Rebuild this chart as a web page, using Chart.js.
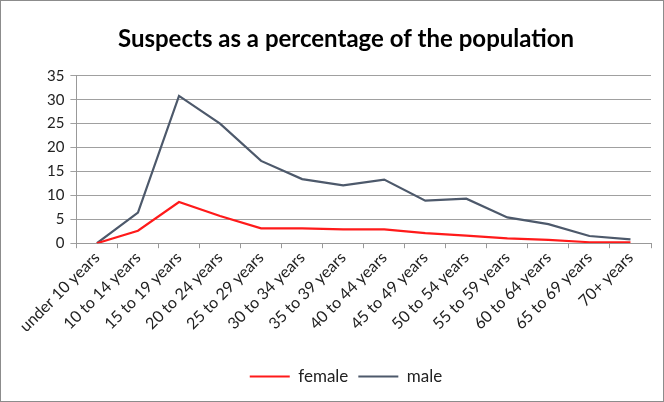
<!DOCTYPE html>
<html>
<head>
<meta charset="utf-8">
<script src="https://cdn.jsdelivr.net/npm/chart.js@4"></script>
<style>
  html, body { margin: 0; padding: 0; background: #fff; }
  .wrap { position: relative; width: 664px; height: 402px; box-sizing: border-box; border: 1px solid #8c8c8c; }
</style>
</head>
<body>
<div class="wrap"><canvas id="chart" width="662" height="400"></canvas></div>
<script>
const ageGroups = ['under 10 years', '10 to 14 years', '15 to 19 years', '20 to 24 years',
  '25 to 29 years', '30 to 34 years', '35 to 39 years', '40 to 44 years', '45 to 49 years',
  '50 to 54 years', '55 to 59 years', '60 to 64 years', '65 to 69 years', '70+ years'];
const female = [0, 2.6, 8.6, 5.7, 3.1, 3.1, 2.9, 2.9, 2.1, 1.6, 1.0, 0.7, 0.2, 0.2];
const male = [0, 6.4, 30.8, 25.0, 17.2, 13.4, 12.1, 13.3, 8.9, 9.3, 5.4, 4.0, 1.5, 0.8];
const yTicks = [0, 5, 10, 15, 20, 25, 30, 35];

const font = 'Lato, "Liberation Sans", sans-serif';

new Chart(document.getElementById('chart'), {
  type: 'line',
  data: {
    labels: ageGroups,
    datasets: [
      { label: 'female', data: female, borderColor: '#ff1a1a', backgroundColor: '#ff1a1a',
        borderWidth: 2.2, pointRadius: 0, tension: 0 },
      { label: 'male', data: male, borderColor: '#4d596b', backgroundColor: '#4d596b',
        borderWidth: 2.2, pointRadius: 0, tension: 0 }
    ]
  },
  options: {
    responsive: false,
    animation: false,
    layout: { padding: { left: 40, right: 12, top: 4, bottom: 6 } },
    plugins: {
      title: {
        display: true,
        text: 'Suspects as a percentage of the population',
        color: '#000',
        font: { family: font, size: 24, weight: 'bold' },
        padding: { top: 20, bottom: 22 }
      },
      legend: {
        position: 'bottom',
        labels: {
          usePointStyle: true,
          pointStyle: 'line',
          pointStyleWidth: 40,
          color: '#222',
          font: { family: font, size: 17 },
          padding: 10
        }
      },
      tooltip: { enabled: false }
    },
    scales: {
      x: {
        offset: true,
        // leave room between the rotated labels and the legend
        afterFit: (axis) => { axis.height += 22; },
        grid: { display: true, drawOnChartArea: false, offset: true, tickLength: 5, color: '#999' },
        border: { color: '#999' },
        ticks: {
          minRotation: 45, maxRotation: 45,
          color: '#222',
          font: { family: font, size: 16 },
          padding: 0
        }
      },
      y: {
        min: 0, max: 35,
        afterBuildTicks: (axis) => { axis.ticks = yTicks.map(v => ({ value: v })); },
        grid: { color: '#a0a0a0', tickLength: 6 },
        border: { color: '#999' },
        ticks: {
          color: '#222',
          font: { family: font, size: 15 },
          padding: 6
        }
      }
    }
  }
});
</script>
</body>
</html>
